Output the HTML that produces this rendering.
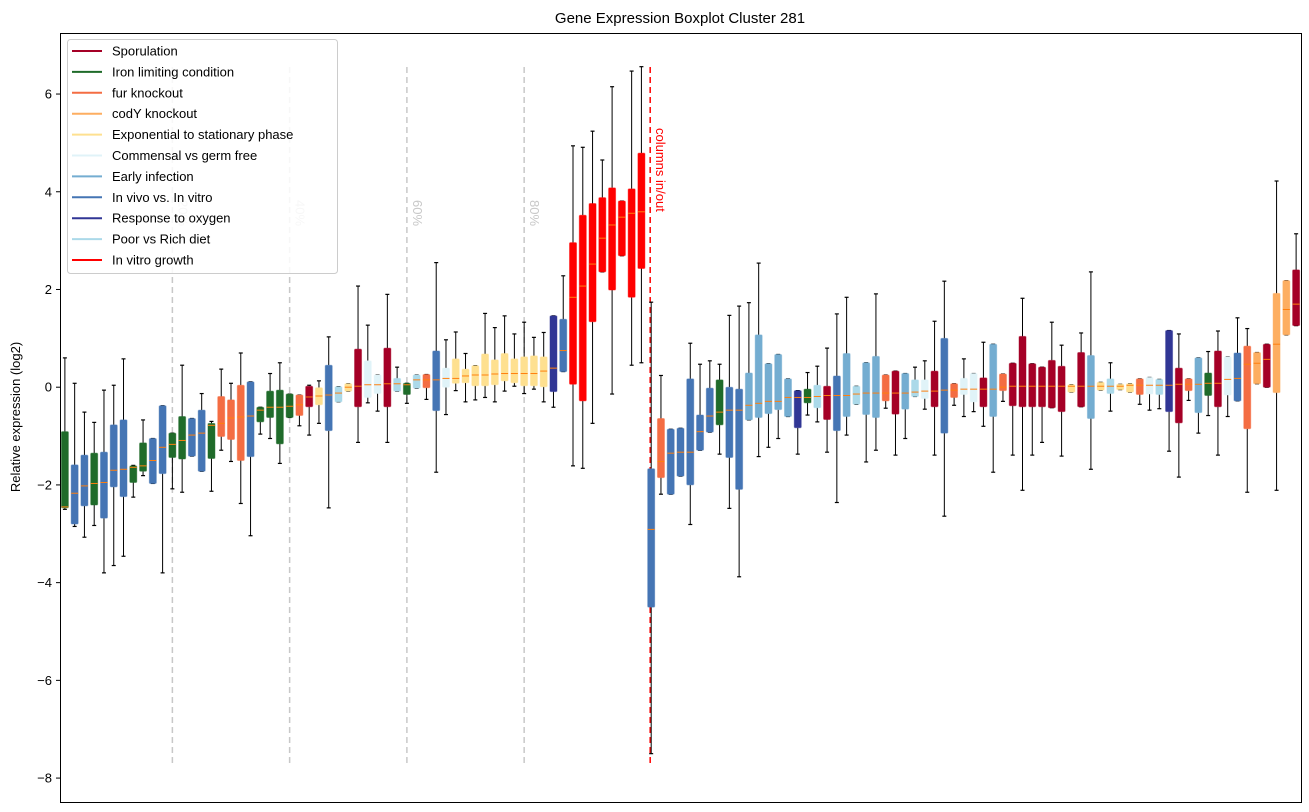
<!DOCTYPE html>
<html><head><meta charset="utf-8"><style>
html,body{margin:0;padding:0;background:#fff;}
svg{display:block;font-family:"Liberation Sans","DejaVu Sans",sans-serif;}
</style></head><body>
<svg id="chart" width="1309" height="812" viewBox="0 0 1309 812" xmlns="http://www.w3.org/2000/svg">
<rect width="1309" height="812" fill="#fff"/>
<text x="680" y="23" text-anchor="middle" font-size="15" fill="#000">Gene Expression Boxplot Cluster 281</text>
<text transform="translate(20,417) rotate(-90)" text-anchor="middle" font-size="13" fill="#000">Relative expression (log2)</text>
<g id="grid"></g>
<g id="marks"></g>
<rect x="60.5" y="33.5" width="1241" height="769" fill="none" stroke="#000" stroke-width="1"/>
<g id="yaxis"></g>
<g id="legend"></g>
</svg>
<script>
const groupNames = ["Sporulation","Iron limiting condition","fur knockout","codY knockout","Exponential to stationary phase","Commensal vs germ free","Early infection","In vivo vs. In vitro","Response to oxygen","Poor vs Rich diet","In vitro growth"];
const groupColors = ["#a50026","#1f6b2a","#f46d43","#fdae61","#fee090","#e0f3f8","#74add1","#4575b4","#313695","#abd9e9","#ff0000"];
const boxGroups = [1,7,7,1,7,7,7,1,1,7,7,1,1,7,7,1,2,2,2,7,1,1,1,1,2,0,4,7,9,4,0,5,5,0,9,1,9,2,7,5,4,4,4,4,4,4,4,4,4,4,8,7,10,10,10,10,10,10,10,10,7,2,7,7,7,7,7,1,7,7,6,6,6,6,6,8,1,9,0,7,6,9,6,6,2,0,6,9,5,0,7,2,5,5,0,6,2,0,0,0,0,0,0,4,0,6,4,9,4,4,2,5,9,8,0,2,6,1,0,5,7,2,3,0,3,3,0];
const whiskerHigh = [0.6,0.08,-0.51,-0.72,-0.06,0.04,0.58,-1.6,-0.67,-1.05,-0.38,-0.94,0.45,-0.64,-0.13,-0.70,0.37,0.08,0.70,0.11,-0.41,0.28,0.50,-0.14,-0.16,0.04,0.13,1.03,0.01,0.07,2.07,1.27,0.25,1.90,0.41,0.08,0.25,0.26,2.55,0.97,1.13,0.69,0.44,1.51,1.22,1.46,1.09,1.33,1.02,1.12,1.46,2.28,4.94,4.91,5.24,4.65,6.15,3.81,6.47,6.56,1.74,0.24,-0.86,-0.84,0.90,0.47,0.54,0.47,1.47,1.66,1.73,2.54,0.48,0.67,0.17,-0.07,0.30,0.43,0.80,1.50,1.84,0.02,0.50,1.91,0.25,0.33,0.28,0.41,0.54,1.35,2.17,0.07,0.58,0.28,0.92,0.88,0.27,0.49,1.82,0.48,0.41,1.33,0.86,0.05,1.11,2.36,0.10,0.50,0.06,0.07,0.17,0.20,0.16,1.16,1.09,0.17,0.60,0.73,1.15,0.62,1.42,1.20,0.71,0.88,4.22,2.18,3.14];
const q3Values = [-0.91,-1.59,-1.39,-1.35,-1.33,-0.77,-0.67,-1.61,-1.14,-1.05,-0.38,-0.94,-0.6,-0.64,-0.47,-0.74,-0.19,-0.26,0.04,0.11,-0.41,-0.08,-0.06,-0.14,-0.16,0.02,-0.01,0.45,0.01,0.07,0.78,0.54,0.25,0.80,0.18,0.08,0.25,0.26,0.74,0.39,0.58,0.37,0.44,0.68,0.56,0.69,0.58,0.62,0.64,0.62,1.46,1.39,2.96,3.52,3.76,3.88,4.08,3.81,4.06,4.79,-1.67,-0.64,-0.86,-0.84,0.17,-0.57,-0.02,0.15,0.0,-0.04,0.29,1.07,0.48,0.67,0.17,-0.07,-0.04,0.04,0.02,0.23,0.69,0.02,0.50,0.63,0.25,0.33,0.28,0.15,0.15,0.33,1.0,0.07,0.18,0.28,0.19,0.88,0.27,0.49,1.04,0.48,0.41,0.55,0.43,0.05,0.71,0.65,0.10,0.17,0.06,0.07,0.17,0.20,0.16,1.16,0.39,0.17,0.60,0.29,0.74,0.62,0.70,0.84,0.71,0.88,1.92,2.18,2.40];
const medianValues = [-2.45,-2.17,-2.02,-1.97,-1.95,-1.70,-1.68,-1.64,-1.61,-1.50,-1.23,-1.17,-1.09,-0.98,-0.94,-0.78,-0.74,-0.63,-0.61,-0.59,-0.47,-0.41,-0.41,-0.39,-0.36,-0.2,-0.18,-0.16,-0.12,0.0,0.02,0.05,0.05,0.07,0.07,0.05,0.15,0.15,0.15,0.18,0.18,0.23,0.25,0.25,0.27,0.28,0.28,0.28,0.28,0.33,0.39,0.75,1.84,2.07,2.52,3.05,3.32,3.48,3.56,3.59,-2.91,-1.52,-1.35,-1.33,-1.33,-0.91,-0.59,-0.51,-0.47,-0.47,-0.37,-0.33,-0.29,-0.29,-0.21,-0.21,-0.21,-0.19,-0.17,-0.17,-0.17,-0.14,-0.12,-0.12,-0.12,-0.12,-0.12,-0.10,-0.08,-0.08,-0.06,-0.06,-0.04,-0.04,-0.04,-0.04,0.0,0.02,0.02,0.02,0.02,0.02,0.02,0.02,0.02,0.02,0.02,0.02,0.02,0.04,0.04,0.04,0.04,0.04,0.06,0.06,0.06,0.08,0.08,0.16,0.18,0.47,0.49,0.57,0.88,1.59,1.70];
const q1Values = [-2.47,-2.8,-2.43,-2.41,-2.68,-2.04,-2.24,-1.95,-1.72,-1.97,-1.77,-1.44,-1.47,-1.41,-1.72,-1.46,-1.01,-1.07,-1.50,-1.42,-0.71,-0.62,-1.16,-0.62,-0.58,-0.40,-0.36,-0.89,-0.30,-0.08,-0.40,-0.21,-0.13,-0.40,-0.08,-0.15,-0.02,-0.01,-0.48,0.0,0.08,0.09,0.03,0.03,0.05,0.13,0.09,0.03,0.03,0.01,-0.09,0.32,0.06,-0.28,1.34,2.36,1.99,2.69,1.84,2.43,-4.5,-1.85,-2.19,-1.82,-2.0,-1.29,-0.92,-0.77,-1.44,-2.09,-0.67,-0.62,-0.54,-0.46,-0.60,-0.83,-0.32,-0.42,-0.66,-0.89,-0.60,-0.35,-0.56,-0.62,-0.28,-0.55,-0.45,-0.19,-0.23,-0.40,-0.94,-0.21,-0.15,-0.30,-0.40,-0.60,-0.07,-0.38,-0.40,-0.40,-0.40,-0.42,-0.50,-0.10,-0.40,-0.64,-0.06,-0.13,-0.05,-0.10,-0.15,-0.14,-0.15,-0.50,-0.73,-0.07,-0.52,-0.17,-0.40,-0.16,-0.28,-0.85,0.07,0.00,-0.11,1.07,1.26];
const whiskerLow = [-2.5,-2.85,-3.07,-2.83,-3.8,-3.65,-3.46,-2.25,-1.81,-1.97,-3.8,-2.08,-2.15,-1.41,-1.72,-2.13,-1.29,-1.52,-2.38,-3.04,-0.96,-1.05,-1.56,-0.62,-0.79,-0.98,-0.74,-2.47,-0.30,-0.08,-1.13,-0.32,-0.49,-1.13,-0.08,-0.33,-0.02,-0.25,-1.74,-0.56,-0.07,-0.30,-0.26,-0.21,-0.30,-0.08,0.02,-0.13,-0.04,-0.30,-0.41,0.32,-1.61,-1.66,-0.74,2.36,-0.14,2.69,0.45,0.50,-7.5,-2.19,-2.19,-1.82,-2.81,-1.29,-0.92,-1.37,-2.48,-3.88,-0.67,-1.42,-1.23,-1.05,-0.60,-1.37,-0.57,-0.71,-1.33,-2.36,-0.98,-0.35,-1.53,-1.29,-0.43,-1.39,-1.05,-0.19,-0.45,-1.39,-2.64,-0.37,-0.60,-0.50,-0.80,-1.74,-0.29,-1.39,-2.11,-1.39,-1.13,-0.42,-1.41,-0.10,-0.40,-1.68,-0.06,-0.49,-0.05,-0.10,-0.35,-0.47,-0.44,-1.31,-1.84,-0.27,-0.94,-0.58,-1.39,-0.60,-0.28,-2.15,0.07,0.00,-2.11,1.07,1.26];
const yTicks = [6,4,2,0,-2,-4,-6,-8];
const pctLines = [12,24,36,48];
const pctLabels = ["20%","40%","60%","80%"];
const splitIndex = 61;

const NS = "http://www.w3.org/2000/svg";
const plotL = 60, plotR = 1301, N = boxGroups.length;
const step = (plotR - plotL) / N;
function xPos(i){ return plotL + (i + 0.5) * step; }
function yPos(v){ return 387.2 - v * 48.86; }
function mk(tag, attrs, parent){ const e = document.createElementNS(NS, tag); for (const k in attrs) e.setAttribute(k, attrs[k]); parent.appendChild(e); return e; }

const grid = document.getElementById('grid');
const marks = document.getElementById('marks');
const yaxis = document.getElementById('yaxis');
const legend = document.getElementById('legend');

yTicks.forEach(t => {
  const y = yPos(t);
  const tk = mk('line', {x1:56, x2:60, y1:y, y2:y, stroke:'#000'}, yaxis);
  
  
  const lb = mk('text', {x:52, y:y+4.5, 'text-anchor':'end', 'font-size':13, fill:'#000'}, yaxis);
  lb.textContent = (t < 0 ? '\u2212' + Math.abs(t) : String(t));
  
  
});

const yTop = 67, yBot = 767;
pctLines.forEach((b, k) => {
  const x = xPos(b - 1);
  const ln = mk('line', {x1:x, x2:x, y1:yTop, y2:yBot, stroke:'#c8c8c8', 'stroke-width':1.5, 'stroke-dasharray':'6,4'}, grid);
  
  
  const tx = mk('text', {transform:`translate(${x+6},200) rotate(90)`, 'font-size':13, fill:'#c8c8c8'}, grid);
  tx.textContent = pctLabels[k];
  
  
});

const sx = xPos(splitIndex - 1) - 1;
const sl = mk('line', {x1:sx, x2:sx, y1:yTop, y2:yBot, stroke:'#ff0000', 'stroke-width':1.5, 'stroke-dasharray':'6,4'}, grid);


const st = mk('text', {transform:`translate(${sx+6},128) rotate(90)`, 'font-size':13, fill:'#ff0000'}, grid);
st.textContent = 'columns in/out';



for (let i = 0; i < N; i++) {
  const x = xPos(i), c = groupColors[boxGroups[i]];
  const g = mk('g', {}, marks);
  
  
  const hw = 3.5, cw = 2;
  mk('line', {x1:x, x2:x, y1:yPos(whiskerHigh[i]), y2:yPos(q3Values[i]), stroke:'#000', 'stroke-width':1}, g);
  mk('line', {x1:x, x2:x, y1:yPos(q1Values[i]), y2:yPos(whiskerLow[i]), stroke:'#000', 'stroke-width':1}, g);
  mk('line', {x1:x-cw, x2:x+cw, y1:yPos(whiskerHigh[i]), y2:yPos(whiskerHigh[i]), stroke:'#000', 'stroke-width':1.2}, g);
  mk('line', {x1:x-cw, x2:x+cw, y1:yPos(whiskerLow[i]), y2:yPos(whiskerLow[i]), stroke:'#000', 'stroke-width':1.2}, g);
  const yt = yPos(q3Values[i]), yb = yPos(q1Values[i]);
  mk('rect', {x:x-hw, y:yt, width:hw*2, height:Math.max(yb-yt,1), fill:c, stroke:c, 'stroke-opacity':0.45, 'stroke-width':1, rx:1}, g);
  mk('line', {x1:x-hw, x2:x+hw, y1:yPos(medianValues[i]), y2:yPos(medianValues[i]), stroke:'#ff7f0e', 'stroke-width':1}, g);
}

mk('rect', {x:67.5, y:39.5, width:270, height:234, fill:'#fff', 'fill-opacity':0.85, stroke:'#ccc', rx:3}, legend);
groupNames.forEach((n, k) => {
  const y = 51 + k * 20.9;
  const e = mk('g', {}, legend);
  
  
  mk('line', {x1:72, x2:102, y1:y, y2:y, stroke:groupColors[k], 'stroke-width':2}, e);
  const t = mk('text', {x:112, y:y+4.5, 'font-size':13, fill:'#000'}, e);
  t.textContent = n;
});
</script>
</body></html>
